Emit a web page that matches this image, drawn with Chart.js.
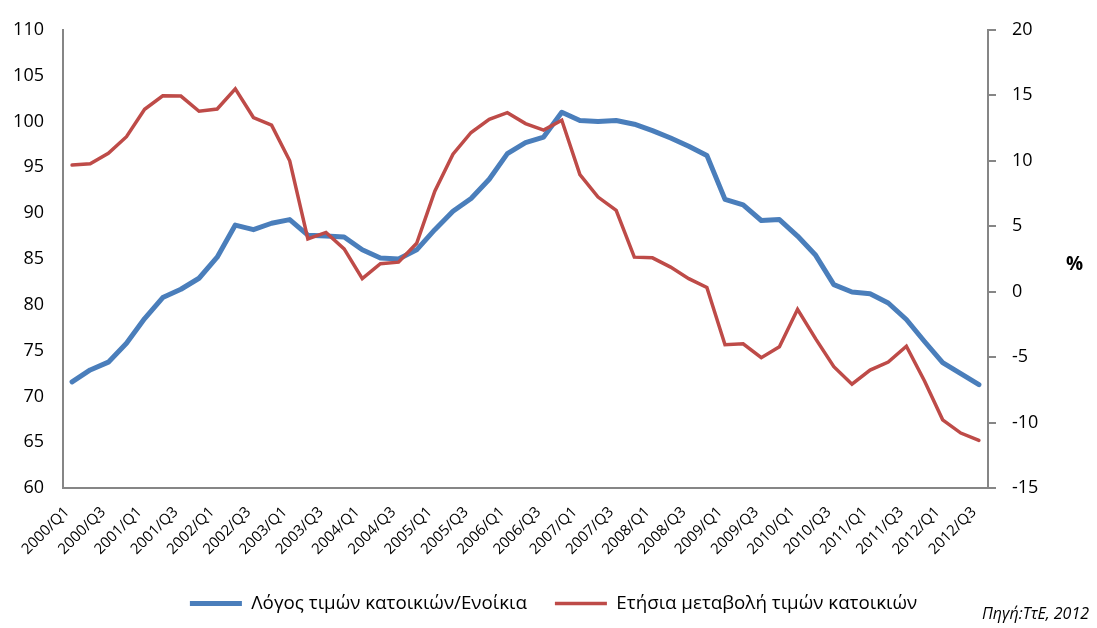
<!DOCTYPE html>
<html lang="el">
<head>
<meta charset="utf-8">
<title>Λόγος τιμών κατοικιών/Ενοίκια</title>
<script src="https://cdn.jsdelivr.net/npm/chart.js@4.4.1/dist/chart.umd.min.js"></script>
<style>
  html, body { margin: 0; padding: 0; background: #ffffff; }
  #wrap { position: relative; width: 1097px; height: 628px; }
  #pct { position: absolute; left: 1066px; top: 250px; font: bold 19px "Open Sans", sans-serif; color: #000; }
  #src { position: absolute; left: 982px; top: 602px; font: italic 16px "Open Sans", sans-serif; color: #000; white-space: nowrap; }
</style>
</head>
<body>
<div id="wrap">
  <canvas id="c" width="1097" height="628"></canvas>
  <div id="pct">%</div>
  <div id="src">Πηγή:ΤτΕ, 2012</div>
</div>
<script>
// Quarters 2000/Q1 .. 2012/Q3
const quarters = [];
for (let y = 2000; y <= 2012; y++) {
  for (let q = 1; q <= 4; q++) {
    if (y === 2012 && q > 3) break;
    quarters.push(y + '/Q' + q);
  }
}

// House price / rent ratio (left axis)
const priceRentRatio = [
  71.6, 72.9, 73.75, 75.8, 78.5, 80.8, 81.7, 82.9, 85.2, 88.7,
  88.2, 88.9, 89.3, 87.6, 87.5, 87.4, 86.0, 85.1, 85.0, 86.0,
  88.2, 90.2, 91.6, 93.7, 96.5, 97.7, 98.3, 101.0, 100.1, 100.0,
  100.1, 99.7, 99.0, 98.2, 97.3, 96.3, 91.5, 90.9, 89.2, 89.3,
  87.5, 85.4, 82.2, 81.4, 81.2, 80.2, 78.4, 76.0, 73.7, 72.5, 71.3
];

// Annual change of house prices, % (right axis)
const annualChange = [
  9.67, 9.77, 10.57, 11.84, 13.93, 14.96, 14.94, 13.78, 13.95, 15.49,
  13.3, 12.72, 10.0, 4.03, 4.53, 3.27, 1.0, 2.14, 2.26, 3.7,
  7.68, 10.5, 12.16, 13.17, 13.67, 12.84, 12.34, 13.1, 8.94, 7.23,
  6.22, 2.64, 2.59, 1.88, 1.0, 0.32, -4.04, -3.98, -5.04, -4.2,
  -1.34, -3.6, -5.72, -7.06, -5.98, -5.37, -4.16, -6.81, -9.78, -10.79, -11.35
];

const seriesNames = ['Λόγος τιμών κατοικιών/Ενοίκια', 'Ετήσια μεταβολή τιμών κατοικιών'];
const leftTicks = [60, 65, 70, 75, 80, 85, 90, 95, 100, 105, 110];
const rightTicks = [-15, -10, -5, 0, 5, 10, 15, 20];

const axisGrey = '#868686';
const blue = '#4A7EBB';
const red = '#BE4B48';
const font = '"Open Sans", sans-serif';

new Chart(document.getElementById('c'), {
  type: 'line',
  data: {
    labels: quarters,
    datasets: [
      {
        label: seriesNames[0],
        data: priceRentRatio,
        yAxisID: 'yL',
        borderColor: blue,
        backgroundColor: blue,
        borderWidth: 5,
        borderCapStyle: 'round',
        borderJoinStyle: 'round',
        pointRadius: 0,
        tension: 0,
        order: 1
      },
      {
        label: seriesNames[1],
        data: annualChange,
        yAxisID: 'yR',
        borderColor: red,
        backgroundColor: red,
        borderWidth: 3.5,
        borderCapStyle: 'round',
        borderJoinStyle: 'miter',
        pointRadius: 0,
        tension: 0,
        order: 0
      }
    ]
  },
  options: {
    responsive: false,
    animation: false,
    layout: { padding: { left: 10, right: 0, top: 27, bottom: 5 } },
    plugins: {
      tooltip: { enabled: false },
      legend: {
        position: 'bottom',
        labels: {
          font: { family: font, size: 18.8 },
          color: '#000',
          usePointStyle: true,
          pointStyle: 'line',
          pointStyleWidth: 52,
          padding: 28,
          sort: (a, b) => a.datasetIndex - b.datasetIndex
        }
      }
    },
    scales: {
      x: {
        type: 'category',
        offset: true,
        grid: { display: true, drawOnChartArea: false, drawTicks: false },
        border: { display: true, color: axisGrey, width: 2 },
        ticks: {
          autoSkip: false,
          minRotation: 45,
          maxRotation: 45,
          padding: 15,
          labelOffset: -5,
          color: '#000',
          font: { family: font, size: 15 },
          callback: (v, i) => (i % 2 === 0 ? quarters[i] : '')
        },
        afterFit: s => { s.height = 78; }
      },
      yL: {
        position: 'left',
        min: 60,
        max: 110,
        afterBuildTicks: s => { s.ticks = leftTicks.map(v => ({ value: v })); },
        grid: { display: true, drawOnChartArea: false, drawTicks: false },
        border: { display: true, color: axisGrey, width: 2 },
        ticks: { padding: 19, color: '#000', font: { family: font, size: 18 } },
        afterFit: s => { s.width = 53; }
      },
      yR: {
        position: 'right',
        min: -15,
        max: 20,
        afterBuildTicks: s => { s.ticks = rightTicks.map(v => ({ value: v })); },
        grid: { display: true, drawOnChartArea: false, drawTicks: true, tickLength: 8, color: axisGrey, lineWidth: 2 },
        border: { display: true, color: axisGrey, width: 2 },
        ticks: { padding: 16, color: '#000', font: { family: font, size: 18 } },
        afterFit: s => { s.width = 109; }
      }
    }
  }
});
</script>
</body>
</html>
